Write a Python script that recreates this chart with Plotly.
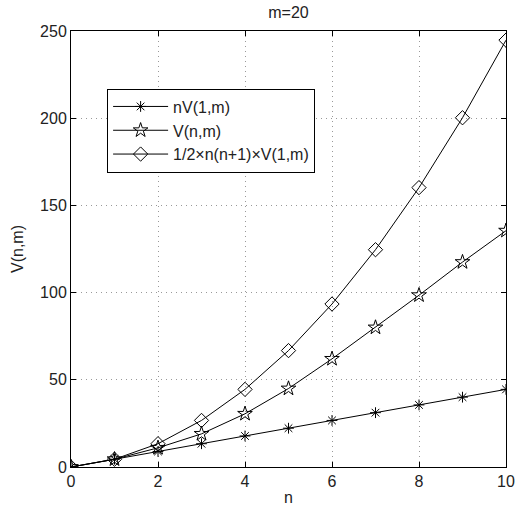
import plotly.graph_objects as go

n_vals = [0, 1, 2, 3, 4, 5, 6, 7, 8, 9, 10]
s_nV1m = [0, 4.45, 8.9, 13.35, 17.8, 22.25, 26.7, 31.15, 35.6, 40.05, 44.5]
s_Vnm = [0, 4.45, 11, 19, 30.5, 45, 62, 80, 98.5, 117.5, 135.5]
s_half = [0, 4.45, 13.35, 26.7, 44.5, 66.75, 93.45, 124.6, 160.2, 200.25, 244.75]
names = ["nV(1,m)", "V(n,m)", "1/2\u00d7n(n+1)\u00d7V(1,m)"]
symbols = ["asterisk-open", "star-open", "diamond-open"]
sizes = [9, 11, 11]
x_ticks = [0, 2, 4, 6, 8, 10]
y_ticks = [0, 50, 100, 150, 200, 250]

FAM = "Liberation Sans, Arial, Helvetica, sans-serif"
fig = go.Figure()
for ys, nm, sym, sz in zip([s_nV1m, s_Vnm, s_half], names, symbols, sizes):
    fig.add_trace(go.Scatter(
        x=n_vals, y=ys, name=nm, mode="lines+markers",
        line=dict(color="black", width=1),
        marker=dict(symbol=sym, size=sz, color="black", line=dict(color="black", width=1)),
    ))

font = dict(family=FAM, size=16, color="#222")
fig.update_layout(
    width=526, height=512,
    margin=dict(l=71, r=20, t=31, b=45),
    paper_bgcolor="white", plot_bgcolor="white",
    font=font,
    title=dict(text="m=20", xref="paper", x=0.5, xanchor="center", y=0.975, yanchor="middle",
               font=dict(family=FAM, size=16, color="#222")),
    legend=dict(x=0.083, y=0.868, xanchor="left", yanchor="top",
                bgcolor="white", bordercolor="black", borderwidth=1,
                font=dict(family=FAM, size=16, color="#222"),
                tracegroupgap=0, itemwidth=55),
    showlegend=True,
)
fig.update_xaxes(
    range=[0, 10], tickvals=x_ticks, ticks="inside", ticklen=5, tickcolor="black",
    showline=True, linecolor="black", linewidth=1, mirror="ticks", automargin=False,
    showgrid=True, gridcolor="#999", griddash="1px,4px", gridwidth=1, zeroline=False,
    tickfont=dict(family=FAM, size=16, color="#222"),
    title=dict(text="n", standoff=2, font=dict(family=FAM, size=16, color="#222")),
)
fig.update_yaxes(
    range=[0, 250], tickvals=y_ticks, ticks="inside", ticklen=5, tickcolor="black",
    showline=True, linecolor="black", linewidth=1, mirror="ticks", automargin=False,
    showgrid=True, gridcolor="#999", griddash="1px,4px", gridwidth=1, zeroline=False,
    tickfont=dict(family=FAM, size=16, color="#222"),
    title=dict(text="V(n,m)", standoff=12, font=dict(family=FAM, size=16, color="#222")),
)
fig.write_html("out.html")
